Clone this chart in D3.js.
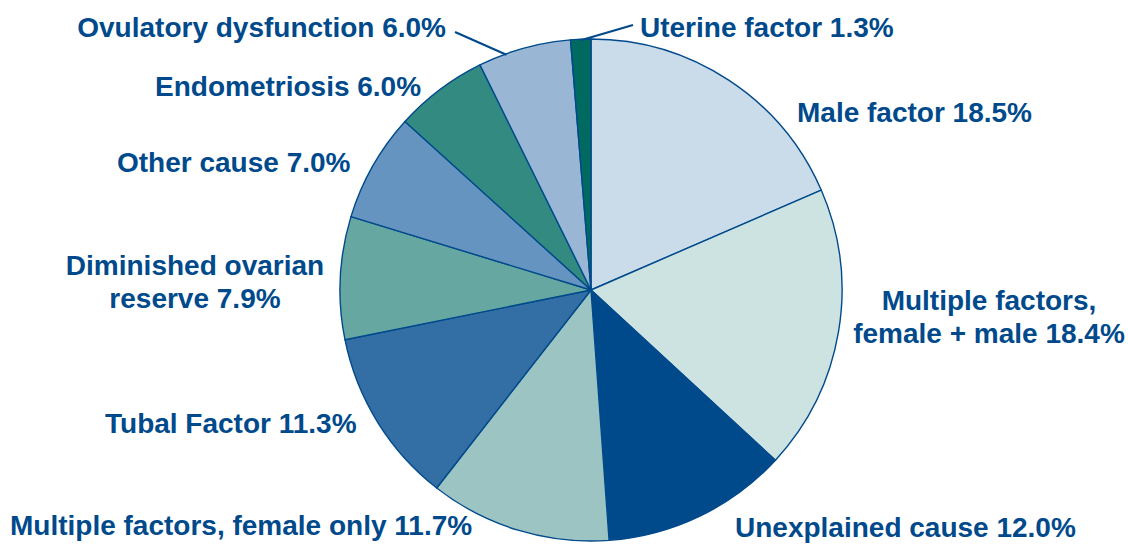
<!DOCTYPE html>
<html>
<head>
<meta charset="utf-8">
<script src="https://cdn.jsdelivr.net/npm/d3@7"></script>
<style>
  html, body { margin: 0; padding: 0; background: #fff; }
  svg text { font-family: "Liberation Sans", Arial, sans-serif; font-weight: bold; fill: #004a8c; }
</style>
</head>
<body>
<div id="chart"></div>
<script>
// Causes, clockwise from 12 o'clock
const categories = [
  'Male factor', 'Multiple factors, female + male', 'Unexplained cause',
  'Multiple factors, female only', 'Tubal Factor', 'Diminished ovarian reserve',
  'Other cause', 'Endometriosis', 'Ovulatory dysfunction', 'Uterine factor'
];
const values = [18.5, 18.4, 12.0, 11.7, 11.3, 7.9, 7.0, 6.0, 6.0, 1.3];
const labelLines = [
  ['Male factor 18.5%'],
  ['Multiple factors,', 'female + male 18.4%'],
  ['Unexplained cause 12.0%'],
  ['Multiple factors, female only 11.7%'],
  ['Tubal Factor 11.3%'],
  ['Diminished ovarian', 'reserve 7.9%'],
  ['Other cause 7.0%'],
  ['Endometriosis 6.0%'],
  ['Ovulatory dysfunction 6.0%'],
  ['Uterine factor 1.3%']
];
const colors = ['#cadbe9', '#cde3e1', '#004a8c', '#9cc4c2', '#336fa4',
                '#66a8a1', '#6694c0', '#338a81', '#99b7d5', '#006a60'];

// label placement (x, first baseline y, anchor); leader = fraction along slice arc
const labelLayout = [
  { x: 797, y: 122, anchor: 'start' },
  { x: 989, y: 310, anchor: 'middle' },
  { x: 735, y: 537, anchor: 'start' },
  { x: 10, y: 535, anchor: 'start' },
  { x: 105, y: 433, anchor: 'start' },
  { x: 195, y: 275, anchor: 'middle' },
  { x: 117, y: 172, anchor: 'start' },
  { x: 155, y: 96, anchor: 'start' },
  { x: 446, y: 37, anchor: 'end', leader: 0.3 },
  { x: 640, y: 37, anchor: 'start', leader: 0.5 }
];

const width = 1128, height = 544;
const cx = 591, cy = 290, radius = 251;

const svg = d3.select('#chart').append('svg')
  .attr('width', width)
  .attr('height', height);

const pie = d3.pie().sort(null).value(d => d)(values);
const arc = d3.arc().innerRadius(0).outerRadius(radius);

const g = svg.append('g').attr('transform', `translate(${cx},${cy})`);

g.selectAll('path.slice')
  .data(pie)
  .join('path')
  .attr('class', 'slice')
  .attr('d', arc)
  .attr('fill', (d, i) => colors[i])
  .attr('stroke', '#004a8c')
  .attr('stroke-width', 1.4)
  .attr('stroke-linejoin', 'round');

// leader lines for the two small slices at the top
const outerPt = (a, r) => [cx + r * Math.sin(a), cy - r * Math.cos(a)];
pie.forEach((d, i) => {
  const lay = labelLayout[i];
  if (lay.leader === undefined) return;
  const a = d.startAngle + (d.endAngle - d.startAngle) * lay.leader;
  const [px, py] = outerPt(a, radius - 1);
  const tx = lay.anchor === 'end' ? lay.x + 9 : lay.x - 7;
  const ty = lay.y - 5 - (lay.anchor === 'end' ? 0 : 7);
  svg.append('line')
    .attr('x1', px).attr('y1', py)
    .attr('x2', tx).attr('y2', ty)
    .attr('stroke', '#004a8c')
    .attr('stroke-width', 2.2);
});

labelLines.forEach((lines, i) => {
  const lay = labelLayout[i];
  const t = svg.append('text')
    .attr('text-anchor', lay.anchor)
    .style('font-size', '28px');
  lines.forEach((line, j) => {
    t.append('tspan')
      .attr('x', lay.x)
      .attr('y', lay.y + j * 33)
      .text(line);
  });
});
</script>
</body>
</html>
